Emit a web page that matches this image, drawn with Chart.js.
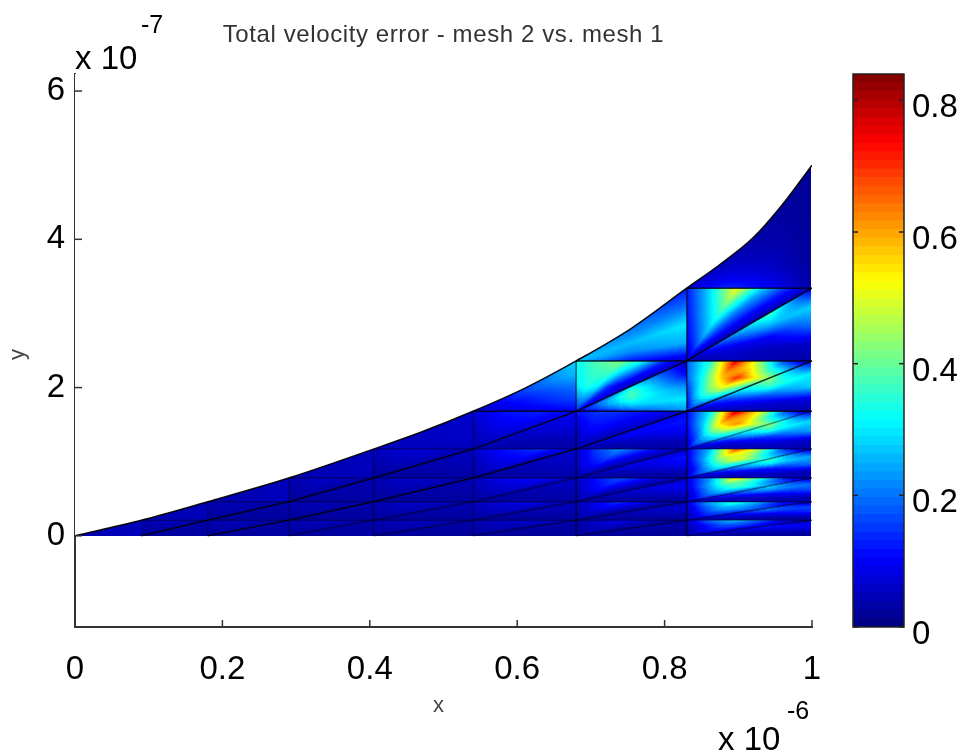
<!DOCTYPE html>
<html>
<head>
<meta charset="utf-8">
<script src="https://cdn.jsdelivr.net/npm/chart.js@4"></script>
<style>
  html, body { margin: 0; background: #fff; }
  #wrap { position: relative; width: 963px; height: 754px; overflow: hidden; }
  canvas { position: absolute; top: 0; }
</style>
</head>
<body>
<div id="wrap">
  <canvas id="meshChart" width="963" height="754" style="left:0"></canvas>
  <canvas id="barChart" width="111" height="754" style="left:852px"></canvas>
</div>
<script>
const titleText = 'Total velocity error - mesh 2 vs. mesh 1';
const xTicks = [0, 0.2, 0.4, 0.6, 0.8, 1];
const yTicks = [0, 2, 4, 6];
const barTicks = [0, 0.2, 0.4, 0.6, 0.8];
const valueMax = 0.84;

// mesh nodes: column positions (x 1e-6) and horizontal levels (y 1e-7)
const columnsX = [0, 0.09, 0.18, 0.29, 0.405, 0.54, 0.68, 0.83, 1];
const levelsY = [0, 0.21, 0.46, 0.78, 1.17, 1.68, 2.36, 3.34, 5];

// the real upper boundary is curved, the mesh nodes only sit on it
const boundaryX = [0, 0.09, 0.18, 0.29, 0.405, 0.47, 0.54, 0.61, 0.68, 0.755, 0.83, 0.875, 0.92, 0.96, 1];
const boundaryY = [0, 0.21, 0.46, 0.78, 1.17, 1.4, 1.68, 1.99, 2.36, 2.8, 3.34, 3.66, 4.02, 4.47, 5];

// every element is [apex value, ...rows], rows run from apex to the far edge
// upper = below the next level, lower = right of the slanted line
const upperCol7 = [
  [.02, [.03,.06,.08,.1,.1,.08], [.04,.1,.16,.16,.12,.08], [.05,.2,.26,.18,.08,.03]],
  [.03, [.04,.08,.12,.14,.14,.12], [.06,.16,.24,.24,.2,.14], [.07,.26,.36,.24,.1,.04]],
  [.04, [.05,.1,.16,.2,.2,.18], [.07,.2,.32,.38,.32,.22], [.07,.24,.55,.34,.12,.04]],
  [.05, [.06,.12,.2,.26,.28,.22], [.08,.24,.42,.52,.42,.3], [.08,.28,.68,.42,.14,.04]],
  [.06, [.08,.16,.26,.3,.3,.26], [.1,.28,.55,.62,.5,.4], [.1,.32,.78,.5,.16,.04]],
  [.08, [.12,.26,.34,.36,.33,.26], [.18,.34,.55,.7,.55,.42], [.18,.36,.76,.42,.14,.04]],
  [.05, [.1,.16,.24,.14,.08,.04], [.11,.24,.36,.2,.1,.04], [.12,.3,.52,.28,.14,.04]]
];
const lowerCol7 = [
  [.02, [.02,.02,.03,.04,.06], [.02,.03,.05,.09,.14], [.02,.03,.08,.1,.04]],
  [.02, [.02,.03,.05,.07,.1], [.02,.04,.08,.16,.22], [.02,.05,.14,.16,.06]],
  [.03, [.03,.04,.06,.1,.14], [.03,.05,.1,.22,.3], [.03,.05,.16,.2,.07]],
  [.03, [.03,.05,.07,.12,.2], [.03,.06,.12,.3,.38], [.03,.05,.2,.24,.07]],
  [.04, [.04,.05,.08,.14,.24], [.04,.07,.15,.34,.44], [.03,.06,.24,.28,.08]],
  [.05, [.04,.07,.1,.16,.26], [.04,.07,.18,.36,.44], [.03,.08,.28,.3,.08]],
  [.04, [.05,.06,.08,.14,.22], [.04,.05,.1,.26,.38], [.03,.06,.2,.28,.08]],
  [.08, [.14,.09,.06,.04,.03], [.1,.06,.04,.03,.02], [.03,.02,.02,.02,.02]]
];
const upperCol6 = [
  [.02, [.03,.04,.05,.04,.03,.02], [.03,.06,.09,.06,.04,.02]],
  [.02, [.03,.06,.07,.05,.03,.03], [.04,.1,.14,.1,.05,.03]],
  [.02, [.04,.08,.1,.07,.04,.03], [.05,.12,.17,.12,.06,.03]],
  [.02, [.05,.1,.12,.08,.05,.03], [.06,.16,.22,.15,.08,.03]],
  [.03, [.06,.1,.1,.08,.06,.05], [.12,.15,.14,.12,.1,.06]],
  [.12, [.3,.34,.3,.14,.08,.06], [.32,.38,.42,.32,.14,.05]]
];
const lowerCol6 = [
  [.02, [.02,.02,.02,.03,.03], [.02,.02,.03,.04,.03]],
  [.02, [.02,.03,.03,.04,.05], [.02,.03,.06,.07,.04]],
  [.02, [.02,.03,.04,.06,.07], [.02,.04,.08,.1,.05]],
  [.02, [.02,.03,.05,.07,.1], [.02,.05,.1,.12,.06]],
  [.03, [.03,.04,.06,.1,.1], [.03,.05,.1,.12,.1]],
  [.06, [.16,.28,.36,.38,.3], [.22,.3,.22,.1,.05]],
  [.26, [.12,.22,.26,.22,.2], [.05,.25,.3,.2,.12]]
];
const upperCol5 = [
  [.02, [.04,.06,.06,.03]],
  [.02, [.05,.08,.08,.04]],
  [.02, [.05,.09,.1,.05]],
  [.02, [.06,.12,.14,.06]],
  [.03, [.07,.12,.13,.1]]
];
const lowerCol5 = [
  [.02, [.02,.03,.03,.04]],
  [.02, [.03,.03,.05,.05]],
  [.02, [.03,.04,.05,.06]],
  [.02, [.03,.05,.06,.07]],
  [.03, [.03,.05,.08,.1]],
  [.05, [.1,.16,.2,.26,.28]]
];
const upperCol4 = [
  [.02, [.04,.05,.05,.03]],
  [.02, [.04,.06,.06,.03]],
  [.02, [.04,.06,.06,.03]],
  [.02, [.05,.07,.07,.04]]
];
const lowerCol4 = [
  [.02, [.02,.03,.03,.04]],
  [.02, [.03,.03,.04,.04]],
  [.02, [.03,.03,.04,.04]],
  [.02, [.03,.04,.05,.05]],
  [.05, [.05,.06,.06,.07]]
];
const upperCol3 = [
  [.02, [.04,.05,.03]],
  [.02, [.04,.05,.03]],
  [.02, [.04,.06,.03]]
];
const lowerCol3 = [
  [.02, [.03,.03,.04]],
  [.02, [.03,.03,.04]],
  [.02, [.03,.04,.04]],
  [.04, [.05,.05,.05]]
];
const upperCol2 = [
  [.02, [.04,.05,.03]],
  [.02, [.04,.05,.03]]
];
const lowerCol2 = [
  [.02, [.03,.03,.04]],
  [.02, [.03,.03,.04]],
  [.04, [.05,.05,.05]]
];
const upperCol1 = [
  [.02, [.04,.05,.03]]
];
const lowerCol1 = [
  [.02, [.03,.03,.04]],
  [.04, [.05,.05,.05]]
];
const upperCol0 = [];
const lowerCol0 = [
  [.04, [.05,.05,.05]]
];
const upperCols = [upperCol0, upperCol1, upperCol2, upperCol3, upperCol4, upperCol5, upperCol6, upperCol7];
const lowerCols = [lowerCol0, lowerCol1, lowerCol2, lowerCol3, lowerCol4, lowerCol5, lowerCol6, lowerCol7];

// colour bar steps (64 bands)
const barLevels = [0,.013,.026,.039,.053,.066,.079,.092,.105,.118,.131,.144,.158,.171,.184,.197,.21,.223,.236,.249,.263,.276,.289,.302,.315,.328,.341,.354,.368,.381,.394,.407,.42,.433,.446,.459,.473,.486,.499,.512,.525,.538,.551,.564,.578,.591,.604,.617,.63,.643,.656,.669,.683,.696,.709,.722,.735,.748,.761,.774,.788,.801,.814,.827,.84];

const labelFont = { family: '"Liberation Sans"', size: 33 };

function clamp01(v) { return Math.max(0, Math.min(1, v)); }

function jet(v) {
    const f = clamp01(v / valueMax);
    return [
        255 * clamp01(1.5 - Math.abs(4 * f - 3)),
        255 * clamp01(1.5 - Math.abs(4 * f - 2)),
        255 * clamp01(1.5 - Math.abs(4 * f - 1))
    ];
}

// true when the pixel sits inside the whole element, keeps colours from leaking over its edges
function insideElement(g, px, py) {
    const s = (g[1].x - g[0].x) * (g[2].y - g[0].y) - (g[1].y - g[0].y) * (g[2].x - g[0].x) > 0 ? 1 : -1;
    for (let i = 0; i < 3; i++) {
        const p = g[i], q = g[(i + 1) % 3];
        if (s * ((q.x - p.x) * (py - p.y) - (q.y - p.y) * (px - p.x)) < -0.05) return false;
    }
    return true;
}

function fillTriangle(img, a, b, c, guard) {
    let area = (b.x - a.x) * (c.y - a.y) - (b.y - a.y) * (c.x - a.x);
    if (Math.abs(area) < 0.001) return;
    if (area < 0) { const t = b; b = c; c = t; area = -area; }
    const lenA = Math.hypot(c.x - b.x, c.y - b.y);
    const lenB = Math.hypot(a.x - c.x, a.y - c.y);
    const lenC = Math.hypot(b.x - a.x, b.y - a.y);
    const x0 = Math.floor(Math.min(a.x, b.x, c.x)) - 1, x1 = Math.ceil(Math.max(a.x, b.x, c.x)) + 1;
    const y0 = Math.floor(Math.min(a.y, b.y, c.y)) - 1, y1 = Math.ceil(Math.max(a.y, b.y, c.y)) + 1;
    for (let y = y0; y <= y1; y++) {
        for (let x = x0; x <= x1; x++) {
            const px = x + 0.5, py = y + 0.5;
            const wa = (c.x - b.x) * (py - b.y) - (c.y - b.y) * (px - b.x);
            const wb = (a.x - c.x) * (py - c.y) - (a.y - c.y) * (px - c.x);
            const wc = (b.x - a.x) * (py - a.y) - (b.y - a.y) * (px - a.x);
            if (wa / lenA < -0.4 || wb / lenB < -0.4 || wc / lenC < -0.4) continue;
            if (!insideElement(guard, px, py)) continue;
            const sum = clamp01(wa / area) + clamp01(wb / area) + clamp01(wc / area);
            if (sum < 1e-6) continue;
            const v = (clamp01(wa / area) * a.v + clamp01(wb / area) * b.v + clamp01(wc / area) * c.v) / sum;
            const rgb = jet(v);
            const i = (y * img.width + x) * 4;
            img.data[i] = rgb[0]; img.data[i + 1] = rgb[1]; img.data[i + 2] = rgb[2]; img.data[i + 3] = 255;
        }
    }
}

function fillElement(img, el, apex, e0, e1) {
    const rows = [new Array(el[1].length).fill(el[0])].concat(el.slice(1));
    const m = rows.length - 1, n = rows[0].length;
    const guard = [apex, e0, e1];
    const sub = 5; // split each read cell so the diagonals do not show
    const node = (ri, si) => {
        const u = si / (n - 1), r = ri / m;
        const i0 = Math.min(Math.floor(ri), m - 1), s0 = Math.min(Math.floor(si), n - 2);
        const fi = ri - i0, fs = si - s0;
        const v = (rows[i0][s0] * (1 - fs) + rows[i0][s0 + 1] * fs) * (1 - fi)
                + (rows[i0 + 1][s0] * (1 - fs) + rows[i0 + 1][s0 + 1] * fs) * fi;
        const ex = e0.x + (e1.x - e0.x) * u, ey = e0.y + (e1.y - e0.y) * u;
        return { x: apex.x + (ex - apex.x) * r, y: apex.y + (ey - apex.y) * r, v };
    };
    for (let i = 0; i < m * sub; i++) {
        for (let s = 0; s < (n - 1) * sub; s++) {
            const a = node(i / sub, s / sub), b = node(i / sub, (s + 1) / sub);
            const c = node((i + 1) / sub, (s + 1) / sub), d = node((i + 1) / sub, s / sub);
            fillTriangle(img, a, b, c, guard);
            fillTriangle(img, a, c, d, guard);
        }
    }
}

const meshField = {
    id: 'meshField',
    beforeDatasetsDraw(chart) {
        const sx = chart.scales.x, sy = chart.scales.y;
        const off = document.createElement('canvas');
        off.width = chart.width; off.height = chart.height;
        const octx = off.getContext('2d');
        const img = octx.createImageData(off.width, off.height);
        const pt = (k, j) => ({ x: sx.getPixelForValue(columnsX[k]), y: sy.getPixelForValue(levelsY[j]) });
        lowerCols.forEach((col, k) => col.forEach((el, j) => fillElement(img, el, pt(k, j), pt(k + 1, j), pt(k + 1, j + 1))));
        upperCols.forEach((col, k) => col.forEach((el, j) => fillElement(img, el, pt(k, j), pt(k, j + 1), pt(k + 1, j + 1))));
        octx.putImageData(img, 0, 0);
        const ctx = chart.ctx, a = chart.chartArea;
        ctx.save();
        ctx.beginPath();
        ctx.rect(a.left, a.top, a.right - a.left - 1, sy.getPixelForValue(0) - a.top + 1);
        ctx.clip();
        ctx.filter = 'blur(0.6px)';
        ctx.drawImage(off, 0, 0);
        ctx.restore();
    }
};

function tickMarks(scale, ctx, from, len) {
    scale.ticks.forEach(t => {
        const p = scale.getPixelForValue(t.value);
        ctx.beginPath();
        if (scale.isHorizontal()) { ctx.moveTo(p, from); ctx.lineTo(p, from - len); }
        else { ctx.moveTo(from, p); ctx.lineTo(from + len, p); }
        ctx.stroke();
    });
}

const axisExtras = {
    id: 'axisExtras',
    afterInit(chart) {
        // title in the reference is a little wider than the font
        const block = chart.titleBlock, draw = block.draw;
        block.draw = function () {
            chart.ctx.letterSpacing = '0.6px';
            draw.call(block);
            chart.ctx.letterSpacing = '0px';
        };
    },
    afterDraw(chart) {
        const ctx = chart.ctx, a = chart.chartArea;
        ctx.save();
        ctx.strokeStyle = '#333';
        ctx.lineWidth = 1.5;
        tickMarks(chart.scales.x, ctx, a.bottom, 7);
        tickMarks(chart.scales.y, ctx, a.left, 7);
        ctx.fillStyle = '#000';
        ctx.textAlign = 'left';
        ctx.textBaseline = 'alphabetic';
        ctx.font = '33px "Liberation Sans"';
        ctx.fillText('x 10', 75, 69);
        ctx.fillText('x 10', 718, 750);
        ctx.font = '25px "Liberation Sans"';
        ctx.fillText('-7', 141, 33);
        ctx.fillText('-6', 787, 719);
        ctx.fillStyle = '#444';
        ctx.font = '22px "Liberation Sans"';
        ctx.fillText('x', 433, 712);
        ctx.translate(24, 360);
        ctx.rotate(-Math.PI / 2);
        ctx.fillText('y', 0, 0);
        ctx.restore();
    }
};

const barFrame = {
    id: 'barFrame',
    afterDraw(chart) {
        const ctx = chart.ctx, a = chart.chartArea, sy = chart.scales.y;
        ctx.save();
        ctx.strokeStyle = '#222';
        ctx.lineWidth = 1.5;
        ctx.strokeRect(a.left, a.top, a.right - a.left, a.bottom - a.top);
        tickMarks(sy, ctx, a.left, 5);
        tickMarks(sy, ctx, a.right, -5);
        ctx.restore();
    }
};

function lineSet(points, alpha, width) {
    return {
        type: 'scatter', showLine: true, data: points, pointRadius: 0, tension: 0,
        borderColor: `rgba(0,0,0,${alpha})`, borderWidth: width
    };
}

// mesh lines come straight from the node arrays
const meshLines = [];
for (let d = 1; d <= 7; d++) {
    const pts = [];
    for (let k = d; k < columnsX.length; k++) pts.push({ x: columnsX[k], y: levelsY[k - d] });
    meshLines.push(lineSet(pts, d <= 2 ? 0.8 : 0.4, 1.5));
}
for (let j = 1; j <= 7; j++) {
    meshLines.push(lineSet([{ x: columnsX[j], y: levelsY[j] }, { x: 1, y: levelsY[j] }], j >= 5 ? 0.8 : 0.35, 1.5));
}
for (let k = 2; k <= 7; k++) {
    meshLines.push(lineSet([{ x: columnsX[k], y: 0 }, { x: columnsX[k], y: levelsY[k] }], k >= 6 ? 0.6 : 0.3, 1.5));
}
// boundary goes last so it paints first, the white fill trims the straight mesh edges
meshLines.push(Object.assign(
    lineSet(boundaryX.map((x, i) => ({ x, y: boundaryY[i] })), 0.95, 1.5),
    { fill: 'end', backgroundColor: '#fff', cubicInterpolationMode: 'monotone' }
));

new Chart(document.getElementById('meshChart'), {
    type: 'scatter',
    data: { datasets: meshLines },
    options: {
        responsive: false, animation: false, devicePixelRatio: 1,
        layout: { padding: { right: 151 } },
        plugins: {
            legend: { display: false }, tooltip: { enabled: false },
            title: { display: true, text: titleText, color: '#333', fullSize: false, font: { family: '"Liberation Sans"', size: 24, weight: 'normal', lineHeight: 1 }, padding: { top: 23, bottom: 27 } }
        },
        scales: {
            x: {
                type: 'linear', min: 0, max: 1,
                afterBuildTicks: s => { s.ticks = xTicks.map(value => ({ value })); },
                afterFit: s => { s.height = 127; },
                grid: { display: false },
                border: { color: '#333', width: 2 },
                ticks: { color: '#000', padding: 15, maxRotation: 0, font: labelFont, callback: v => String(v) }
            },
            y: {
                type: 'linear', min: -1.23, max: 6.23,
                afterBuildTicks: s => { s.ticks = yTicks.map(value => ({ value })); },
                afterFit: s => { s.width = 75; },
                grid: { display: false },
                border: { color: '#333', width: 2 },
                ticks: { color: '#000', padding: 2, font: labelFont, callback: v => String(v) }
            }
        }
    },
    plugins: [meshField, axisExtras]
});

new Chart(document.getElementById('barChart'), {
    type: 'bar',
    data: {
        labels: ['error'],
        datasets: barLevels.slice(0, -1).map((lo, i) => {
            const c = jet((lo + barLevels[i + 1]) / 2);
            return { data: [[lo, barLevels[i + 1]]], backgroundColor: `rgb(${c[0]},${c[1]},${c[2]})`, borderWidth: 0, grouped: false, barPercentage: 1, categoryPercentage: 1 };
        })
    },
    options: {
        responsive: false, animation: false, devicePixelRatio: 1,
        layout: { padding: { top: 74, bottom: 127, left: 1 } },
        plugins: { legend: { display: false }, tooltip: { enabled: false } },
        scales: {
            x: { display: false },
            y: {
                position: 'right', min: 0, max: valueMax,
                afterBuildTicks: s => { s.ticks = barTicks.map(value => ({ value })); },
                afterFit: s => { s.width = 59; },
                grid: { display: false, drawTicks: false },
                border: { display: false },
                ticks: { color: '#000', padding: 8, labelOffset: 8, font: labelFont, callback: v => String(v) }
            }
        }
    },
    plugins: [barFrame]
});
</script>
</body>
</html>
